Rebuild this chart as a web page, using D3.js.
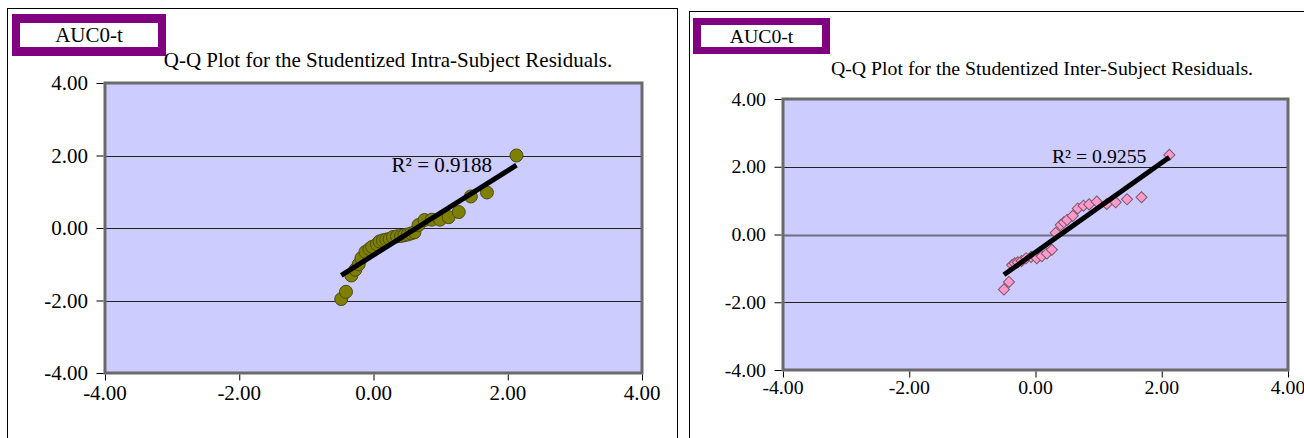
<!DOCTYPE html>
<html>
<head>
<meta charset="utf-8">
<script src="https://cdn.jsdelivr.net/npm/d3@7"></script>
<style>
  html, body { margin: 0; padding: 0; background: #fff; }
  svg { display: block; }
  text { font-family: "Liberation Serif", "Times New Roman", serif; fill: #000; }
</style>
</head>
<body>
<svg id="chart" width="1304" height="438"></svg>
<script>
// Axis ticks shared by both Q-Q plots
const tickValues = [-4, -2, 0, 2, 4];
const gridValues = [-2, 0, 2];

// Intra-subject studentized residuals (expected quantile, observed residual)
const intraX = [-0.48, -0.41, -0.33, -0.27, -0.22, -0.18, -0.12, -0.06, -0.02, 0.05,
                0.09, 0.14, 0.19, 0.24, 0.29, 0.35, 0.41, 0.46, 0.51, 0.56,
                0.61, 0.67, 0.76, 0.87, 0.99, 1.12, 1.27, 1.45, 1.69, 2.13];
const intraY = [-1.96, -1.76, -1.31, -1.15, -1.00, -0.83, -0.66, -0.58, -0.52, -0.45,
                -0.37, -0.34, -0.32, -0.30, -0.25, -0.23, -0.22, -0.20, -0.18, -0.15,
                -0.12, 0.08, 0.22, 0.23, 0.23, 0.30, 0.44, 0.87, 0.98, 2.00];

// Inter-subject studentized residuals
const interX = [-0.50, -0.42, -0.37, -0.33, -0.28, -0.22, -0.15, -0.07, 0.02, 0.10,
                0.18, 0.26, 0.32, 0.40, 0.45, 0.50, 0.59, 0.67, 0.76, 0.85,
                0.97, 1.13, 1.27, 1.45, 1.68, 2.12];
const interY = [-1.62, -1.40, -0.90, -0.85, -0.82, -0.78, -0.70, -0.66, -0.70, -0.64,
                -0.56, -0.45, 0.05, 0.28, 0.36, 0.43, 0.55, 0.77, 0.85, 0.89,
                0.97, 0.90, 0.95, 1.04, 1.10, 2.35];

const panelLabel = "AUC0-t";
const titles = ["Q-Q Plot for the Studentized Intra-Subject Residuals.",
                "Q-Q Plot for the Studentized Inter-Subject Residuals."];
const r2Labels = ["R\u00B2 = 0.9188", "R\u00B2 = 0.9255"];

const svg = d3.select("#chart");
const fmt = d => d.toFixed(2);

function label(g, x, y, str, size, anchor) {
  return g.append("text")
    .attr("x", x).attr("y", y)
    .attr("text-anchor", anchor || "start")
    .style("font-size", size + "px")
    .text(str);
}

function leastSquares(xs, ys) {
  const mx = d3.mean(xs), my = d3.mean(ys);
  let sxy = 0, sxx = 0;
  xs.forEach((x, i) => { sxy += (x - mx) * (ys[i] - my); sxx += (x - mx) * (x - mx); });
  const slope = sxy / sxx;
  return { slope, intercept: my - slope * mx };
}

function drawPanel(cfg) {
  const g = svg.append("g");
  const fs = cfg.fontSize;

  // outer frame of the panel
  g.append("rect")
    .attr("x", cfg.frame[0] + 0.5).attr("y", cfg.frame[1] + 0.5)
    .attr("width", cfg.frame[2]).attr("height", cfg.frame[3])
    .attr("fill", "none").attr("stroke", "#000").attr("stroke-width", 1);

  // label box
  const b = cfg.box;
  g.append("rect").attr("x", b[0]).attr("y", b[1]).attr("width", b[2]).attr("height", b[3])
    .attr("fill", "#800080");
  g.append("rect").attr("x", b[0] + cfg.boxPad[0]).attr("y", b[1] + cfg.boxPad[1])
    .attr("width", b[2] - 2 * cfg.boxPad[0]).attr("height", b[3] - 2 * cfg.boxPad[1])
    .attr("fill", "#fff");
  label(g, b[0] + b[2] / 2, b[1] + b[3] / 2 + fs * 0.34, panelLabel, fs, "middle");

  // title
  label(g, cfg.titleX, cfg.titleY, cfg.title, fs, "middle");

  const x = d3.scaleLinear().domain([-4, 4]).range([cfg.plot[0], cfg.plot[0] + cfg.plot[2]]);
  const y = d3.scaleLinear().domain([-4, 4]).range([cfg.plot[1] + cfg.plot[3], cfg.plot[1]]);

  // plot area
  g.append("rect")
    .attr("x", x(-4)).attr("y", y(4))
    .attr("width", x(4) - x(-4)).attr("height", y(-4) - y(4))
    .attr("fill", "#CCCCFF");

  // gridlines
  g.selectAll(null).data(gridValues).join("line")
    .attr("x1", x(-4)).attr("x2", x(4))
    .attr("y1", d => Math.round(y(d)) + 0.5).attr("y2", d => Math.round(y(d)) + 0.5)
    .attr("stroke", d => (d === 0 && cfg.zeroGray) ? "#6f6f88" : "#222")
    .attr("stroke-width", d => (d === 0 && cfg.zeroGray) ? 2 : 1);

  // plot border
  g.append("rect")
    .attr("x", x(-4)).attr("y", y(4))
    .attr("width", x(4) - x(-4)).attr("height", y(-4) - y(4))
    .attr("fill", "none").attr("stroke", "#6a6a6a").attr("stroke-width", 3);

  // axes (tick marks through d3, lettering set in the serif face below)
  const yAxis = d3.axisLeft(y).tickValues(tickValues).tickSize(7).tickFormat(fmt);
  const xAxis = d3.axisBottom(x).tickValues(tickValues).tickSize(6).tickFormat(fmt);
  const ya = g.append("g").attr("transform", `translate(${x(-4) - 1.5},0)`).call(yAxis);
  const xa = g.append("g").attr("transform", `translate(0,${y(-4) + 1.5})`).call(xAxis);
  [ya, xa].forEach(a => {
    a.select(".domain").remove();
    a.selectAll(".tick line").attr("stroke", "#000");
    a.selectAll(".tick text").remove();
  });
  tickValues.forEach(v => {
    label(g, x(-4) - 17, y(v) + fs * 0.34, fmt(v), fs, "end");
    label(g, x(v), y(-4) + cfg.xLabelOffset, fmt(v), fs, "middle");
  });

  // points
  const pts = cfg.xs.map((v, i) => [v, cfg.ys[i]]);
  if (cfg.marker === "circle") {
    g.selectAll(null).data(pts).join("circle")
      .attr("cx", d => x(d[0])).attr("cy", d => y(d[1])).attr("r", 6.5)
      .attr("fill", "#808000").attr("stroke", "#4a4a1a").attr("stroke-width", 1);
  } else {
    const sym = d3.symbol().type(d3.symbolSquare).size(62);
    g.selectAll(null).data(pts).join("path")
      .attr("d", sym)
      .attr("transform", d => `translate(${x(d[0])},${y(d[1])}) rotate(45)`)
      .attr("fill", "#FF99CC").attr("stroke", "#7a5a6a").attr("stroke-width", 1);
  }

  // linear trend line
  const fit = leastSquares(cfg.xs, cfg.ys);
  const [x0, x1] = d3.extent(cfg.xs);
  g.append("line")
    .attr("x1", x(x0)).attr("y1", y(fit.intercept + fit.slope * x0))
    .attr("x2", x(x1)).attr("y2", y(fit.intercept + fit.slope * x1))
    .attr("stroke", "#000").attr("stroke-width", 5);

  // R² annotation
  label(g, x(cfg.r2At[0]), y(cfg.r2At[1]), cfg.r2, fs, "start");
}

drawPanel({
  frame: [7, 8, 670, 440],
  box: [12, 14, 154, 42], boxPad: [8, 9],
  fontSize: 21,
  title: titles[0], titleX: 388, titleY: 67,
  plot: [105, 83, 537, 290],
  xLabelOffset: 27,
  xs: intraX, ys: intraY, marker: "circle",
  r2: r2Labels[0], r2At: [0.27, 1.55],
  zeroGray: false
});

drawPanel({
  frame: [689, 11, 640, 440],
  box: [693, 18, 137, 36], boxPad: [8, 7],
  fontSize: 19.8,
  title: titles[1], titleX: 1042, titleY: 75,
  plot: [783, 99, 505, 271],
  xLabelOffset: 24,
  xs: interX, ys: interY, marker: "diamond",
  r2: r2Labels[1], r2At: [0.26, 2.11],
  zeroGray: true
});
</script>
</body>
</html>
